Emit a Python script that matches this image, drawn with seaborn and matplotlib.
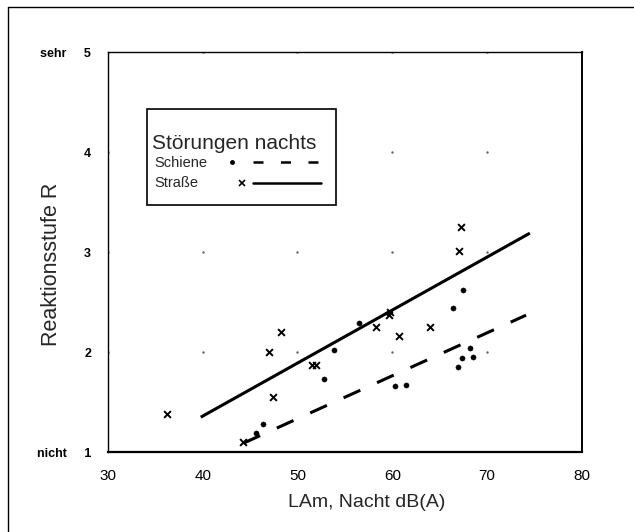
import matplotlib
matplotlib.use("Agg")
import matplotlib.pyplot as plt
import seaborn as sns
import numpy as np
import pandas as pd
from matplotlib.lines import Line2D

# Straße (x markers)
strasse_db = [36.2, 44.3, 47.0, 47.4, 48.3, 51.5, 52.0, 58.3, 59.7, 59.8, 60.7, 64.0, 67.0, 67.2]
strasse_r = [1.38, 1.10, 2.00, 1.55, 2.20, 1.87, 1.87, 2.25, 2.37, 2.40, 2.16, 2.25, 3.01, 3.25]

# Schiene (dots)
schiene_db = [45.6, 46.4, 52.8, 53.8, 56.5, 60.3, 61.4, 66.4, 66.9, 67.3, 67.5, 68.2, 68.5]
schiene_r = [1.19, 1.28, 1.73, 2.02, 2.29, 1.66, 1.67, 2.44, 1.85, 1.94, 2.62, 2.04, 1.95]

# Regressionsgeraden (Anfangs-/Endwerte)
strasse_fit_db = [39.8, 74.5]
strasse_fit_r = [1.35, 3.19]
schiene_fit_db = [44.3, 74.1]
schiene_fit_r = [1.09, 2.37]

x_ticks = [30, 40, 50, 60, 70, 80]
y_ticks = [1, 2, 3, 4, 5]
y_labels = ["nicht     1", "2", "3", "4", "sehr     5"]

sns.set_theme(style="white")
plt.rcParams["font.family"] = ["Liberation Sans", "DejaVu Sans"]

fig = plt.figure(figsize=(6.34, 5.32), dpi=100)
ax = fig.add_axes([0.170, 0.150, 0.748, 0.752])

df_s = pd.DataFrame({"db": strasse_db, "r": strasse_r})
df_b = pd.DataFrame({"db": schiene_db, "r": schiene_r})

sns.scatterplot(data=df_s, x="db", y="r", marker="x", s=24, color="black",
                linewidth=1.4, ax=ax, zorder=3)
sns.scatterplot(data=df_b, x="db", y="r", marker="o", s=14, color="black",
                edgecolor="black", ax=ax, zorder=3)

ax.plot(strasse_fit_db, strasse_fit_r, color="black", lw=2.2, solid_capstyle="butt")
ax.plot(schiene_fit_db, schiene_fit_r, color="black", lw=2.2, dashes=(6, 6))

# Gitterpunkte an den Kreuzungen
gx, gy = np.meshgrid(x_ticks, y_ticks)
ax.plot(gx.ravel(), gy.ravel(), ls="none", marker=".", ms=1.5, color="#666666", zorder=1)

ax.set_xlim(30, 80)
ax.set_ylim(1, 5)
ax.set_xticks(x_ticks)
ax.set_yticks(y_ticks)
ax.set_yticklabels(y_labels)
ax.tick_params(axis="both", direction="in", length=3, width=0.8, colors="black", pad=12)
ax.tick_params(axis="x", labelsize=11)
for lab in ax.get_yticklabels():
    lab.set_fontweight("bold")
    lab.set_fontsize(9)
for sp in ax.spines.values():
    sp.set_color("black")
    sp.set_linewidth(1.0)
ax.spines["bottom"].set_linewidth(1.6)
ax.spines["right"].set_linewidth(1.4)

ax.set_xlabel("LAm, Nacht dB(A)", fontsize=14)
ax.xaxis.set_label_coords(0.545, -0.105)
ax.set_ylabel("Reaktionsstufe R", fontsize=15.5)
ax.yaxis.set_label_coords(-0.097, 0.47)

# Legende
lg_x0, lg_y0, lg_w, lg_h = 0.082, 0.617, 0.40, 0.24
ax.add_patch(plt.Rectangle((lg_x0, lg_y0), lg_w, lg_h, transform=ax.transAxes,
                           fill=True, facecolor="white", edgecolor="black", lw=1.2, zorder=4))
ax.text(lg_x0 + 0.012, lg_y0 + 0.155, "Störungen nachts", transform=ax.transAxes,
        fontsize=15, va="center", ha="left", zorder=5)
ax.text(lg_x0 + 0.017, lg_y0 + 0.105, "Schiene", transform=ax.transAxes,
        fontsize=10.5, va="center", ha="left", zorder=5)
ax.text(lg_x0 + 0.017, lg_y0 + 0.055, "Straße", transform=ax.transAxes,
        fontsize=10.5, va="center", ha="left", zorder=5)
ax.plot([lg_x0 + 0.18], [lg_y0 + 0.108], marker="o", ms=2.5, color="black",
        transform=ax.transAxes, zorder=5)
ax.plot([lg_x0 + 0.2], [lg_y0 + 0.057], marker="x", ms=4, mew=1.2, color="black",
        transform=ax.transAxes, zorder=5)
ax.plot([lg_x0 + 0.224, lg_x0 + 0.367], [lg_y0 + 0.108] * 2, color="black", lw=1.8,
        dashes=(4, 7), transform=ax.transAxes, zorder=5)
ax.plot([lg_x0 + 0.224, lg_x0 + 0.367], [lg_y0 + 0.057] * 2, color="black", lw=1.8,
        transform=ax.transAxes, zorder=5)

# Rahmen oben und links
fig.add_artist(Line2D([8 / 634, 1], [1 - 7 / 532] * 2, color="black", lw=1.0))
fig.add_artist(Line2D([8 / 634] * 2, [0, 1 - 7 / 532], color="black", lw=1.0))

fig.savefig("out.png", dpi=100, facecolor="white")
